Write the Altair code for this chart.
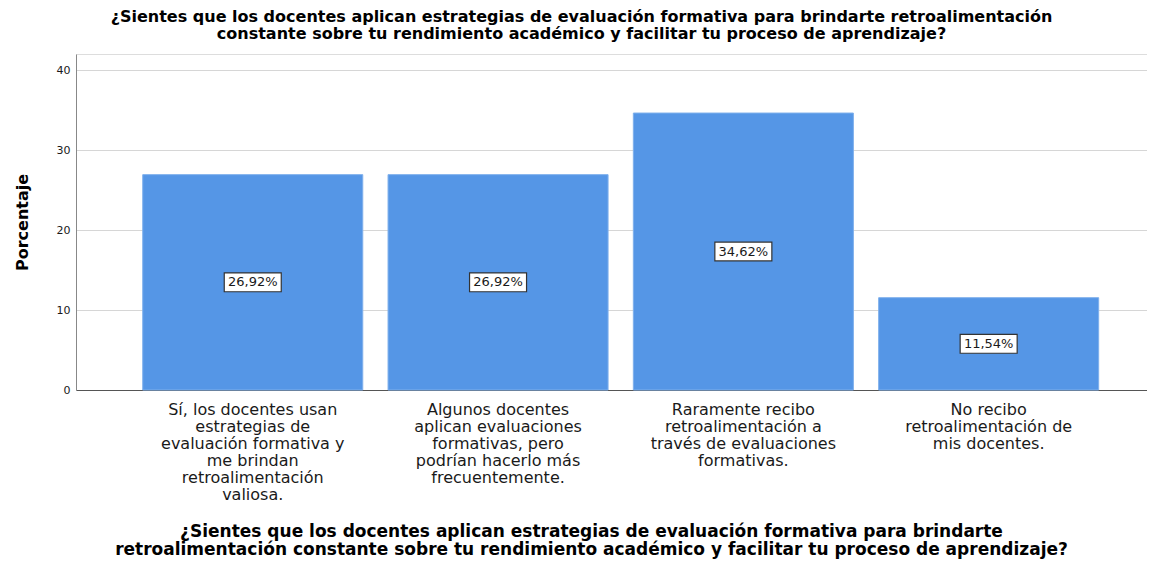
import altair as alt
import pandas as pd

categories = [
    "Sí, los docentes usan\nestrategias de\nevaluación formativa y\nme brindan\nretroalimentación\nvaliosa.",
    "Algunos docentes\naplican evaluaciones\nformativas, pero\npodrían hacerlo más\nfrecuentemente.",
    "Raramente recibo\nretroalimentación a\ntravés de evaluaciones\nformativas.",
    "No recibo\nretroalimentación de\nmis docentes.",
]
percentages = [26.92, 26.92, 34.62, 11.54]
y_ticks = [0, 10, 20, 30, 40]

title_lines = [
    "¿Sientes que los docentes aplican estrategias de evaluación formativa para brindarte retroalimentación",
    "constante sobre tu rendimiento académico y facilitar tu proceso de aprendizaje?",
]
x_title_lines = [
    "¿Sientes que los docentes aplican estrategias de evaluación formativa para brindarte",
    "retroalimentación constante sobre tu rendimiento académico y facilitar tu proceso de aprendizaje?",
]
y_title = "Porcentaje"

df = pd.DataFrame({"cat": categories, "pct": percentages})

FONT = "DejaVu Sans"

x_enc = alt.X(
    "cat:N",
    sort=categories,
    scale=alt.Scale(paddingInner=0.103, paddingOuter=0.2345, align=0.58),
    axis=alt.Axis(
        title=x_title_lines,
        labelAngle=0,
        labelExpr="split(datum.label, '\\n')",
        labelFontSize=16,
        labelLineHeight=17,
        labelBaseline="top",
        labelPadding=11,
        labelLimit=400,
        labelColor="#1a1a1a",
        labelFont=FONT,
        ticks=False,
        domainColor="#555555",
        domainWidth=1,
        grid=False,
        titleFont=FONT,
        titleFontSize=17,
        titleFontWeight="bold",
        titleColor="#000000",
        titleBaseline="top",
        titleAnchor="start",
        titleAlign="center",
        titleX=515,
        titleY=133,
        titleLineHeight=18,
    ),
)

y_enc = alt.Y(
    "pct:Q",
    scale=alt.Scale(domain=[0, 42], nice=False),
    axis=alt.Axis(
        title=y_title,
        values=y_ticks,
        labelFontSize=11,
        labelFont=FONT,
        labelColor="#1a1a1a",
        labelPadding=6,
        ticks=False,
        domainColor="#888888",
        gridColor="#d6d6d6",
        gridWidth=1,
        titleFont=FONT,
        titleFontSize=16,
        titleFontWeight="bold",
        titleColor="#000000",
        titlePadding=26,
    ),
)

bars = alt.Chart(df).mark_bar(color="#5596e6", stroke="#7fb0ec", strokeWidth=1).encode(
    x=x_enc, y=y_enc
)

label_base = alt.Chart(df).transform_calculate(
    mid="datum.pct / 2",
    lbl="replace(format(datum.pct, '.2f'), '.', ',') + '%'",
)

boxes = label_base.mark_point(
    shape="M-1,-0.33L1,-0.33L1,0.33L-1,0.33Z",
    size=3249,
    filled=True,
    fill="white",
    stroke="#333333",
    strokeWidth=1.2,
    opacity=1,
).encode(
    x=alt.X("cat:N", sort=categories),
    y=alt.Y("mid:Q"),
)

texts = label_base.mark_text(
    font=FONT, fontSize=13, color="#1a1a1a", align="center", baseline="middle"
).encode(
    x=alt.X("cat:N", sort=categories),
    y=alt.Y("mid:Q"),
    text="lbl:N",
)

chart = (
    alt.layer(bars, boxes, texts)
    .properties(
        width=1071,
        height=336,
        title=alt.Title(
            text=title_lines,
            font=FONT,
            fontSize=16,
            fontWeight="bold",
            color="#000000",
            anchor="middle",
            dx=-30,
            offset=12,
            lineHeight=17,
        ),
        autosize=alt.AutoSizeParams(type="none"),
        padding={"left": 68, "top": 46, "right": 0, "bottom": 171},
    )
    .configure_view(stroke=None)
    .configure(background="white")
)

chart.save("out.html", embed_options={"renderer": "svg", "actions": False})
